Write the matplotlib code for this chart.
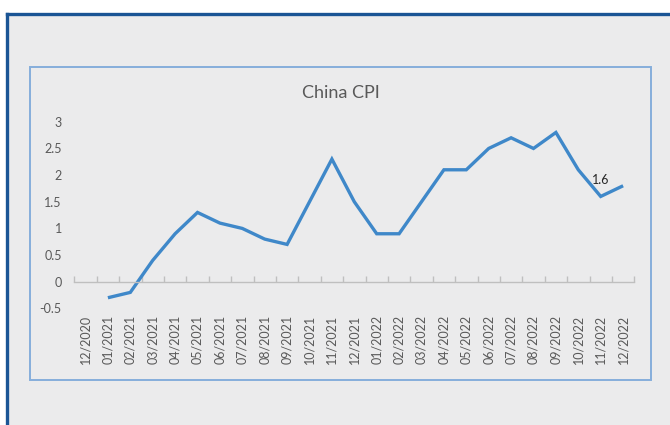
import numpy as np
import matplotlib.pyplot as plt
from matplotlib.patches import Rectangle

# 数据
months = ['12/2020', '01/2021', '02/2021', '03/2021', '04/2021', '05/2021', '06/2021',
          '07/2021', '08/2021', '09/2021', '10/2021', '11/2021', '12/2021', '01/2022',
          '02/2022', '03/2022', '04/2022', '05/2022', '06/2022', '07/2022', '08/2022',
          '09/2022', '10/2022', '11/2022', '12/2022']
cpi = [np.nan, -0.3, -0.2, 0.4, 0.9, 1.3, 1.1, 1.0, 0.8, 0.7, 1.5, 2.3, 1.5, 0.9,
       0.9, 1.5, 2.1, 2.1, 2.5, 2.7, 2.5, 2.8, 2.1, 1.6, 1.8]
y_ticks = [-0.5, 0, 0.5, 1, 1.5, 2, 2.5, 3]
label_month = '11/2022'

W, H = 670, 425
plt.rcParams['font.family'] = ['Lato', 'DejaVu Sans']

fig = plt.figure(figsize=(W / 100, H / 100), dpi=100, facecolor='white')


def px_rect(x0, y0, x1, y1, **kw):
    # 像素坐标 -> 图形坐标
    return Rectangle((x0 / W, 1 - y1 / H), (x1 - x0) / W, (y1 - y0) / H,
                     transform=fig.transFigure, zorder=-5, **kw)


# 外框背景与深蓝边线
fig.patches.append(px_rect(7, 14, 680, 440, facecolor='#EBEBEC', edgecolor='none'))
fig.add_artist(plt.Line2D([7 / W, 7 / W], [0, 1 - 14 / H], color='#1B5595', lw=2.4,
                          transform=fig.transFigure, zorder=-4))
fig.add_artist(plt.Line2D([7 / W, 1], [1 - 14 / H, 1 - 14 / H], color='#1B5595', lw=2.4,
                          transform=fig.transFigure, zorder=-4))
# 内框
fig.patches.append(px_rect(30, 67, 651, 380, facecolor='#EBEBEC', edgecolor='#86AEDB', lw=1.4))

# 坐标轴
x0, x1 = 74.3, 634.3
ytop, ybot = 121.8, 308.4
ax = fig.add_axes([x0 / W, 1 - ybot / H, (x1 - x0) / W, (ybot - ytop) / H])
ax.patch.set_alpha(0)

x = np.arange(len(months))
ax.plot(x, cpi, color='#3F88C9', lw=2.4, solid_capstyle='butt', solid_joinstyle='miter')

i = months.index(label_month)
ax.annotate(f'{cpi[i]:.1f}', (x[i], cpi[i]), xytext=(0, 12), textcoords='offset points',
            ha='center', va='center', fontsize=9, color='#262626')

ax.set_xlim(-0.5, len(months) - 0.5)
ax.set_ylim(-0.5, 3)
ax.set_yticks(y_ticks)
ax.set_yticklabels([f'{v:g}' for v in y_ticks])

ax.set_xticks(x)
ax.set_xticklabels(months)
ax.set_xticks(np.arange(len(months) + 1) - 0.5, minor=True)
ax.tick_params(axis='x', which='major', length=0, pad=24, labelrotation=90,
               labelsize=9, labelcolor='#595959')
ax.tick_params(axis='x', which='minor', direction='in', length=4, color='#BFBFBF', width=1)
ax.tick_params(axis='y', length=0, pad=9, labelsize=9, labelcolor='#595959')
for lab in ax.get_xticklabels():
    lab.set_va('top')

for s in ['top', 'right', 'left']:
    ax.spines[s].set_visible(False)
ax.spines['bottom'].set_position(('data', 0))
ax.spines['bottom'].set_color('#BFBFBF')
ax.spines['bottom'].set_linewidth(1)

fig.text(340.5 / W, 1 - 93 / H, 'China CPI', ha='center', va='center',
         fontsize=13, color='#595959')

fig.savefig('out.png', dpi=100, facecolor='white')
